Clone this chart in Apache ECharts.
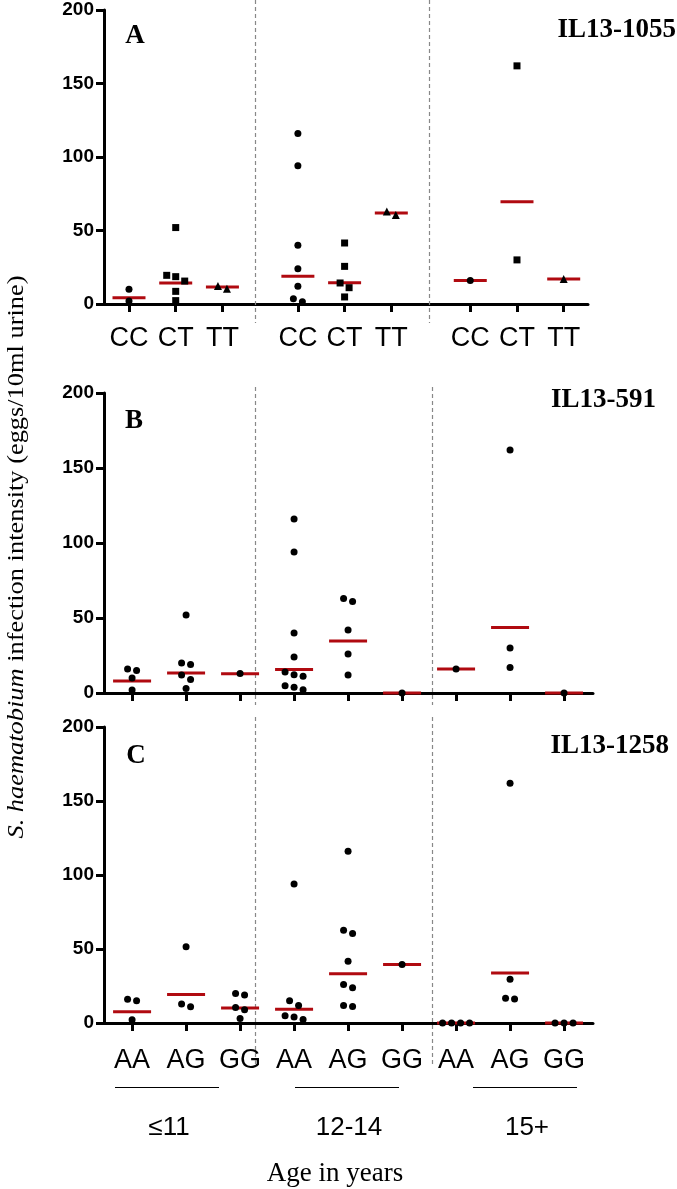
<!DOCTYPE html>
<html><head><meta charset="utf-8">
<script src="https://cdn.jsdelivr.net/npm/echarts@6/dist/echarts.min.js"></script>
<style>html,body{margin:0;padding:0;background:#fff}#c{width:677px;height:1189px}</style>
</head><body><div id="c"></div>
<script>
// ---------------- data ----------------
const ageGroups = ['≤11', '12-14', '15+'];
const genotypes1055 = ['CC', 'CT', 'TT'];
const genotypes591 = ['', '', ''];
const genotypes1258 = ['AA', 'AG', 'GG'];
const panelLetters = ['A', 'B', 'C'];
const panelTitles = ['IL13-1055', 'IL13-591', 'IL13-1258'];
const yTicks = [0, 50, 100, 150, 200];

// values per age group, per genotype (eggs/10ml urine)
const il1055Values = [
  [[10, 2], [52, 19.5, 18.6, 15.6, 8.6, 2.3], [10.4, 12.2]],
  [[116, 94, 40, 24, 12, 1.6, 3.6], [41.5, 25.6, 14.3, 11.1, 4.8], [60.5, 63]],
  [[16], [162, 30], [17]]
];
const il1055Means = [[4.3, 14.3, 11.6], [18.8, 14.5, 61.9], [16, 69.6, 17]];

const il591Values = [
  [[16, 15, 10, 2], [52, 20, 19, 12, 9, 3], [13]],
  [[116, 94, 40, 24, 14, 12.2, 11.1, 4.9, 3.8, 2.2], [63, 61, 42, 26, 12], [0]],
  [[16], [162, 30, 17], [0]]
];
const il591Means = [[8, 13.3, 12.9], [15.6, 34.7, 0], [16, 43.6, 0]];

const il1258Values = [
  [[16, 15, 2.2], [51.6, 12.9, 10.9], [20, 18.9, 10.4, 8.9, 3.1]],
  [[94, 15.1, 11.8, 4.9, 4, 2.4], [116, 62.7, 60.4, 41.8, 26, 23.8, 11.8, 11.1], [39.6]],
  [[0, 0, 0, 0], [162, 29.6, 16.7, 16.2], [0, 0, 0]]
];
const il1258Means = [[7.6, 19.3, 10.2], [9.3, 33.3, 39.6], [0, 33.8, 0]];

// ---------------- layout ----------------
const RED = '#b00a10';
const panels = [
  { values: il1055Values, means: il1055Means, genotypes: genotypes1055, symbols: ['circle', 'rect', 'triangle'],
    grid: { left: 104, top: 10, width: 484, height: 294 }, xMax: 10.36, starts: [0.535, 4.15, 7.84],
    dividers: [3.23, 6.96], dashY: [0, 323], showLabels: true, labelMargin: 35, meanW: 33,
    letter: [135, 36], title: [676, 30] },
  { values: il591Values, means: il591Means, genotypes: genotypes591, symbols: ['circle', 'circle', 'circle'],
    grid: { left: 104, top: 393, width: 489, height: 300 }, xMax: 9.056, starts: [0.52, 3.52, 6.52],
    dividers: [2.80, 6.07], dashY: [387, 705], showLabels: false, labelMargin: 35, meanW: 38,
    letter: [134, 421], title: [656, 400] },
  { values: il1258Values, means: il1258Means, genotypes: genotypes1258, symbols: ['circle', 'circle', 'circle'],
    grid: { left: 104, top: 727, width: 489, height: 296 }, xMax: 9.056, starts: [0.52, 3.52, 6.52],
    dividers: [2.80, 6.07], dashY: [717, 1064], showLabels: true, labelMargin: 38, meanW: 38,
    letter: [136, 756], title: [669, 746] }
];

function swarm(vals, pxPerY, pxPerX, dpx) {
  const sorted = vals.map(v => v).sort((a, b) => b - a);
  const rows = []; let cur = null;
  sorted.forEach(v => {
    if (cur && (cur[0] - v) * pxPerY < 7) cur.push(v); else { cur = [v]; rows.push(cur); }
  });
  const out = [];
  rows.forEach(r => {
    const k = r.length;
    r.forEach((v, j) => out.push([(j - (k - 1) / 2) * dpx / pxPerX, v]));
  });
  return out;
}

const grids = [], xAxes = [], yAxes = [], series = [];
panels.forEach((P, p) => {
  grids.push(Object.assign({ containLabel: false, outerBoundsMode: 'none' }, P.grid));
  const slotPos = [], slotLab = [];
  ageGroups.forEach((ag, g) => P.genotypes.forEach((gt, i) => { slotPos.push(P.starts[g] + i); slotLab.push(gt); }));
  xAxes.push({
    type: 'value', gridIndex: p, min: 0, max: P.xMax, splitLine: { show: false },
    axisLine: { show: true, onZero: false, lineStyle: { color: '#000', width: 3, opacity: 1 } },
    axisTick: { show: true, customValues: slotPos, length: 8, inside: false, lineStyle: { color: '#000', width: 3 } },
    axisLabel: { show: P.showLabels, customValues: slotPos, margin: P.labelMargin, verticalAlign: 'middle',
      fontFamily: 'Liberation Sans', fontSize: 27, color: '#000',
      formatter: v => { let b = 0; slotPos.forEach((s, k) => { if (Math.abs(s - v) < Math.abs(slotPos[b] - v)) b = k; }); return slotLab[b]; } }
  });
  yAxes.push({
    type: 'value', gridIndex: p, min: 0, max: 200, interval: 50, splitLine: { show: false },
    axisLine: { show: true, lineStyle: { color: '#000', width: 3, opacity: 1 } },
    axisTick: { show: true, length: 8, lineStyle: { color: '#000', width: 3 } },
    axisLabel: { margin: 10, fontFamily: 'Liberation Sans', fontWeight: 'bold', fontSize: 19, color: '#000',
      showMinLabel: true, showMaxLabel: true }
  });
  const pxPerX = P.grid.width / P.xMax, pxPerY = P.grid.height / 200;
  const pts = [], means = [];
  ageGroups.forEach((ag, g) => P.genotypes.forEach((gt, i) => {
    const cx = P.starts[g] + i;
    swarm(P.values[g][i], pxPerY, pxPerX, 9).forEach(([dx, v]) => {
      pts.push({ value: [cx + dx, v], symbol: P.symbols[i], symbolSize: P.symbols[i] === 'triangle' ? 8 : 7 });
    });
    means.push([cx, P.means[g][i]]);
  }));
  series.push({ type: 'scatter', xAxisIndex: p, yAxisIndex: p, data: means, symbol: 'rect',
    symbolSize: [P.meanW, 3], itemStyle: { color: RED, opacity: 1 }, z: 3, clip: false, silent: true });
  series.push({ type: 'scatter', xAxisIndex: p, yAxisIndex: p, data: pts,
    itemStyle: { color: '#000', opacity: 1 }, z: 4, clip: false, silent: true });
});

const chart = echarts.init(document.getElementById('c'), null, { renderer: 'canvas' });
chart.setOption({
  animation: false, backgroundColor: '#fff',
  grid: grids, xAxis: xAxes, yAxis: yAxes, series: series
});

// ---------------- annotations ----------------
const graphics = [];
panels.forEach((P, p) => {
  P.dividers.forEach(d => {
    const x = Math.round(chart.convertToPixel({ xAxisIndex: p }, d)) + 0.5;
    graphics.push({ type: 'line', z: 1, shape: { x1: x, y1: P.dashY[0], x2: x, y2: P.dashY[1] },
      style: { stroke: '#888', lineWidth: 1.2, lineDash: [4, 3] } });
  });
  graphics.push({ type: 'text', x: P.letter[0], y: P.letter[1],
    style: { text: panelLetters[p], fontFamily: 'Liberation Serif', fontWeight: 'bold', fontSize: 27, fill: '#000', align: 'center', verticalAlign: 'middle' } });
  graphics.push({ type: 'text', x: P.title[0], y: P.title[1],
    style: { text: panelTitles[p], fontFamily: 'Liberation Serif', fontWeight: 'bold', fontSize: 27, fill: '#000', align: 'right', verticalAlign: 'middle' } });
});
// age group underlines and labels under panel C
const underlines = [[115, 219], [295, 399], [473, 577]];
underlines.forEach((u, g) => {
  graphics.push({ type: 'line', shape: { x1: u[0], y1: 1087.5, x2: u[1], y2: 1087.5 }, style: { stroke: '#000', lineWidth: 1 } });
  graphics.push({ type: 'text', x: (u[0] + u[1]) / 2 + 2, y: 1128,
    style: { text: ageGroups[g], fontFamily: 'Liberation Sans', fontSize: 26, fill: '#000', align: 'center', verticalAlign: 'middle' } });
});
graphics.push({ type: 'text', x: 335, y: 1174,
  style: { text: 'Age in years', fontFamily: 'Liberation Serif', fontSize: 27, fill: '#000', align: 'center', verticalAlign: 'middle' } });
graphics.push({ type: 'text', x: 17, y: 557, rotation: Math.PI / 2, scaleX: 1.1,
  style: { text: '{i|S. haematobium} infection intensity (eggs/10ml urine)',
    rich: { i: { fontStyle: 'italic', fontFamily: 'Liberation Serif', fontSize: 24, fill: '#000' } },
    fontFamily: 'Liberation Serif', fontSize: 24, fill: '#000', align: 'center', verticalAlign: 'middle' } });
chart.setOption({ graphic: graphics });
</script></body></html>
